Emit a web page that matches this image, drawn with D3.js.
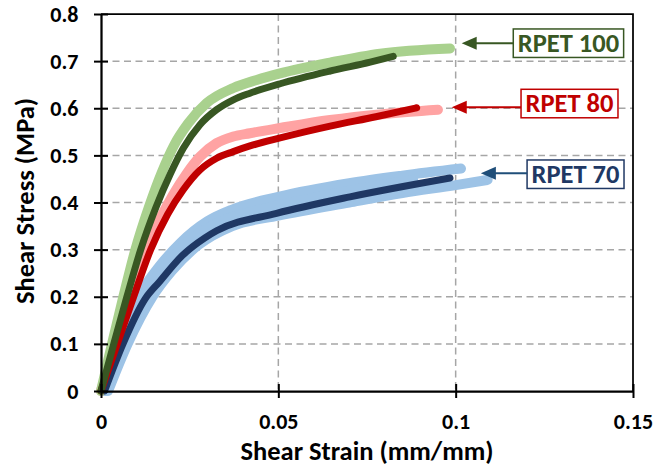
<!DOCTYPE html>
<html>
<head>
<meta charset="utf-8">
<script src="https://cdn.jsdelivr.net/npm/d3@7"></script>
<style>
  html, body { margin: 0; padding: 0; background: #fff; overflow: hidden; }
  svg { display: block; }
  svg text { font-family: Carlito, Calibri, Lato, sans-serif; font-weight: bold; }
</style>
</head>
<body>
<div id="chart"></div>
<script>
// tick values
const strainTicks = [0, 0.05, 0.1, 0.15];
const stressTicks = [0, 0.1, 0.2, 0.3, 0.4, 0.5, 0.6, 0.7, 0.8];

// [shear strain, shear stress]
const rpet100Test = [[0,0],[0.0031,0.1],[0.0063,0.2],[0.0097,0.3],[0.0135,0.39],[0.0172,0.465],[0.0205,0.52],[0.0246,0.568],[0.0298,0.611],[0.0373,0.643],[0.0439,0.66],[0.0505,0.674],[0.0646,0.697],[0.0787,0.716],[0.0984,0.727]];
const rpet100Fit  = [[0,0],[0.0036,0.1],[0.0073,0.2],[0.0112,0.3],[0.0155,0.39],[0.0195,0.46],[0.0232,0.515],[0.0279,0.565],[0.0326,0.597],[0.0373,0.618],[0.042,0.632],[0.0505,0.652],[0.0646,0.679],[0.0759,0.698],[0.0824,0.71]];
const rpet80Test  = [[0,0],[0.004,0.1],[0.008,0.2],[0.0122,0.29],[0.0163,0.36],[0.0202,0.415],[0.0242,0.462],[0.0279,0.497],[0.0326,0.526],[0.0373,0.54],[0.042,0.547],[0.0505,0.558],[0.0646,0.575],[0.08,0.588],[0.095,0.597]];
const rpet80Fit   = [[0,0],[0.0046,0.1],[0.0092,0.2],[0.014,0.3],[0.0188,0.375],[0.0232,0.427],[0.0279,0.469],[0.0326,0.494],[0.0373,0.508],[0.042,0.52],[0.0505,0.537],[0.0646,0.562],[0.0775,0.582],[0.089,0.601]];
const rpet70TestA = [[0.001,0],[0.0045,0.1],[0.0105,0.2],[0.0165,0.265],[0.0225,0.315],[0.03,0.36],[0.037,0.385],[0.05,0.412],[0.07,0.441],[0.085,0.457],[0.1015,0.472]];
const rpet70TestB = [[0.001,0],[0.0055,0.1],[0.0118,0.2],[0.018,0.265],[0.025,0.32],[0.033,0.357],[0.045,0.385],[0.06,0.41],[0.075,0.432],[0.088,0.448]];
const rpet70TestC = [[0.002,0],[0.0075,0.1],[0.0145,0.2],[0.02,0.255],[0.0275,0.31],[0.037,0.35],[0.05,0.372],[0.07,0.4],[0.085,0.42],[0.1,0.437],[0.109,0.448]];
const rpet70Fit   = [[0.001,0],[0.0062,0.1],[0.0124,0.195],[0.0165,0.232],[0.023,0.288],[0.0293,0.325],[0.0326,0.34],[0.0495,0.377],[0.0702,0.412],[0.0984,0.452]];

// labels: text, arrow tip [strain, stress], box centre [strain, stress]
const labelNames = ["RPET 100", "RPET 80", "RPET 70"];
const arrowTips  = [[0.1017, 0.738], [0.0989, 0.602], [0.1071, 0.462]];
const labelSpots = [[0.1318, 0.738], [0.1321, 0.610], [0.1338, 0.460]];

const width = 658, height = 475;
const margin = { top: 14, right: 25, bottom: 84, left: 101 };
const innerWidth = width - margin.left - margin.right;
const innerHeight = height - margin.top - margin.bottom;

const svg = d3.select("#chart").append("svg")
    .attr("width", width).attr("height", height);
const g = svg.append("g").attr("transform", `translate(${margin.left},${margin.top})`);

const x = d3.scaleLinear().domain([0, 0.15]).range([0, innerWidth]);
const y = d3.scaleLinear().domain([0, 0.8]).range([innerHeight, 0]);

// dashed grid
g.append("g").selectAll("line").data(stressTicks.slice(1, -1)).enter().append("line")
    .attr("x1", 0).attr("x2", innerWidth).attr("y1", d => y(d)).attr("y2", d => y(d))
    .style("stroke", "#a6a6a6").style("stroke-width", 1.5).style("stroke-dasharray", "7,4.5");
g.append("g").selectAll("line").data(strainTicks.slice(1, -1)).enter().append("line")
    .attr("y1", 0).attr("y2", innerHeight).attr("x1", d => x(d)).attr("x2", d => x(d))
    .style("stroke", "#a6a6a6").style("stroke-width", 1.5).style("stroke-dasharray", "7,4.5");

// frame top/right
g.append("path").attr("d", `M0,0H${innerWidth}V${innerHeight}`)
    .style("fill", "none").style("stroke", "#000").style("stroke-width", 1.75);

// curves: raw tests (light) under the fitted curves (dark)
const line = d3.line().x(p => x(p[0])).y(p => y(p[1])).curve(d3.curveMonotoneX);
const curves = [
    { data: rpet70TestA, color: "#9dc3e6", w: 10 },
    { data: rpet70TestB, color: "#9dc3e6", w: 10 },
    { data: rpet70TestC, color: "#9dc3e6", w: 10 },
    { data: rpet80Test,  color: "#ffa3a3", w: 10 },
    { data: rpet100Test, color: "#a9d18e", w: 10 },
    { data: rpet70Fit,   color: "#1f3864", w: 7 },
    { data: rpet80Fit,   color: "#c00000", w: 7 },
    { data: rpet100Fit,  color: "#385723", w: 7 }
];
g.append("g").selectAll("path").data(curves).enter().append("path")
    .attr("d", d => line(d.data))
    .style("fill", "none")
    .style("stroke", d => d.color)
    .style("stroke-width", d => d.w)
    .style("stroke-linecap", "round")
    .style("stroke-linejoin", "round");

// axes
const xAxis = g.append("g").attr("transform", `translate(0,${innerHeight})`)
    .call(d3.axisBottom(x).tickValues(strainTicks).tickFormat(d => d3.format("")(d)).tickSizeInner(7).tickSizeOuter(0).tickPadding(15.7));
const yAxis = g.append("g")
    .call(d3.axisLeft(y).tickValues(stressTicks).tickFormat(d => d3.format("")(d)).tickSizeInner(7).tickSizeOuter(0).tickPadding(15.5));
[xAxis, yAxis].forEach(a => {
    a.attr("font-family", null).attr("font-size", null);
    a.select(".domain").style("stroke", "#000").style("stroke-width", 2.25);
    a.selectAll(".tick line").style("stroke", "#000").style("stroke-width", 2);
    a.selectAll(".tick text").style("font-size", "22px").style("fill", "#000");
});
// ticks cross the axis line
xAxis.selectAll(".tick line").attr("y1", -7);
yAxis.selectAll(".tick line").attr("x1", 7);

// axis titles
svg.append("text").attr("x", margin.left + innerWidth / 2).attr("y", 459.5)
    .attr("text-anchor", "middle").style("font-size", "26.5px").text("Shear Strain (mm/mm)");
svg.append("text").attr("transform", `translate(33.5,201) rotate(-90)`)
    .attr("text-anchor", "middle").style("font-size", "26.5px").text("Shear Stress (MPa)");

// labels with arrows
const labelColors = ["#385723", "#c00000", "#203864"];
const arrowColors = ["#385723", "#c00000", "#1f4e79"];
labelNames.forEach((name, i) => {
    const lg = g.append("g");
    const cx = x(labelSpots[i][0]), cy = y(labelSpots[i][1]);
    const txt = lg.append("text").attr("x", cx).attr("y", cy + 8.5)
        .attr("text-anchor", "middle")
        .style("font-size", "26.5px").style("fill", labelColors[i]).text(name);
    const bw = txt.node().getComputedTextLength() + 9, bh = 28.5;
    lg.insert("rect", "text")
        .attr("x", cx - bw / 2).attr("y", cy - bh / 2).attr("width", bw).attr("height", bh)
        .style("fill", "#fff").style("stroke", labelColors[i]).style("stroke-width", 1.5);
    const tx = x(arrowTips[i][0]), ty = y(arrowTips[i][1]);
    lg.append("line").attr("x1", cx - bw / 2).attr("x2", tx + 12).attr("y1", ty).attr("y2", ty)
        .style("stroke", arrowColors[i]).style("stroke-width", 2);
    lg.append("path").attr("d", `M${tx},${ty}L${tx + 15},${ty - 6.5}L${tx + 15},${ty + 6.5}Z`)
        .style("fill", arrowColors[i]);
});
</script>
</body>
</html>
